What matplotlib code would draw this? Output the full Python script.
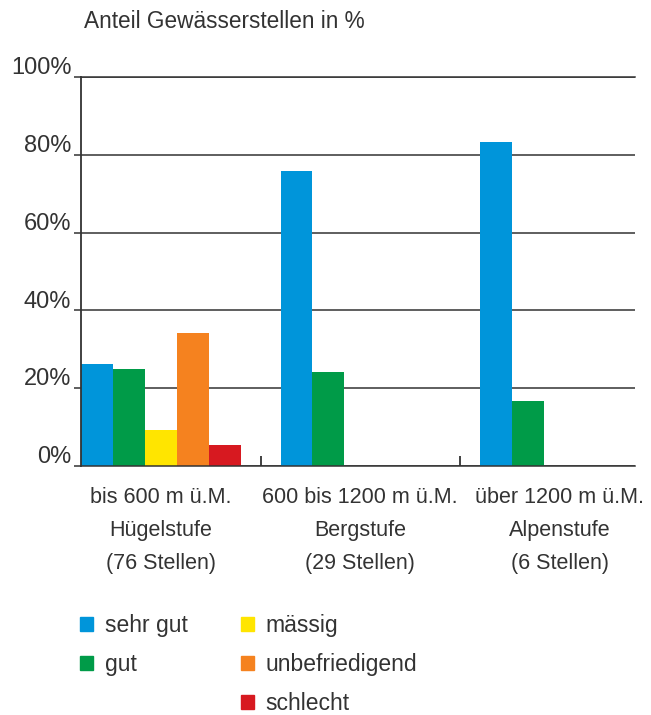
import matplotlib.pyplot as plt
from matplotlib.patches import Patch
from matplotlib.transforms import ScaledTranslation

plt.rcParams['font.family'] = ['Liberation Sans', 'DejaVu Sans']

groups = ["bis 600 m ü.M.\nHügelstufe\n(76 Stellen)",
          "600 bis 1200 m ü.M.\nBergstufe\n(29 Stellen)",
          "über 1200 m ü.M.\nAlpenstufe\n(6 Stellen)"]
classes = ["sehr gut", "gut", "mässig", "unbefriedigend", "schlecht"]
colors = ["#0095da", "#009b48", "#ffe500", "#f5821f", "#d71920"]

# Anteil in % je Höhenstufe
sehr_gut = [26.3, 75.9, 83.3]
gut = [25.0, 24.1, 16.7]
maessig = [9.2, 0, 0]
unbefriedigend = [34.2, 0, 0]
schlecht = [5.3, 0, 0]
values = [sehr_gut, gut, maessig, unbefriedigend, schlecht]

yticks = [0, 20, 40, 60, 80, 100]
ytick_labels = ["0%", "20%", "40%", "60%", "80%", "100%"]

txt = "#333333"
line = "#333333"

fig = plt.figure(figsize=(6.51, 7.15), dpi=100)
ax = fig.add_axes([81 / 651, 1 - 466 / 715, (635 - 81) / 651, (466 - 77) / 715])

w = 0.16
for k, (name, vals, c) in enumerate(zip(classes, values, colors)):
    xs = [i + w * k + w / 2 for i in range(len(groups))]
    ax.bar(xs, vals, width=w, color=c, linewidth=0, label=name)

ax.set_xlim(0, 554 / 199.5)
ax.set_ylim(0, 100)
ax.set_axisbelow(True)

ax.set_yticks(yticks)
ax.set_yticklabels(ytick_labels)
ax.yaxis.grid(True, color=line, linewidth=1.1)
ax.tick_params(axis='y', length=5, width=1.1, color=line, pad=2,
               labelsize=17, labelcolor=txt)
lift = ScaledTranslation(0, 2 / 72, fig.dpi_scale_trans)
for lbl in ax.get_yticklabels():
    lbl.set_verticalalignment('baseline')
    lbl.set_transform(lbl.get_transform() + lift)

centers = [i + 2.5 * w for i in range(len(groups))]
ax.set_xticks(centers)
ax.set_xticklabels(groups)
ax.set_xticks([0.9, 1.9], minor=True)
ax.tick_params(axis='x', which='major', length=0, pad=15, labelsize=15.5,
               labelcolor=txt)
ax.tick_params(axis='x', which='minor', direction='in', length=7, width=1.3,
               color=line)
for lbl in ax.get_xticklabels():
    lbl.set_linespacing(1.76)
    lbl.set_verticalalignment('top')

ax.spines["right"].set_visible(False)
for s in ["top", "bottom"]:
    ax.spines[s].set_color(line)
    ax.spines[s].set_linewidth(1.1)
ax.spines["left"].set_color(line)
ax.spines["left"].set_linewidth(1.3)

fig.text(84 / 651, 1 - 22 / 715, "Anteil Gewässerstellen in %", fontsize=16.3,
         color=txt, va='center', ha='left')

handles = [Patch(color=colors[0]), Patch(color=colors[1]), Patch(alpha=0),
           Patch(color=colors[2]), Patch(color=colors[3]), Patch(color=colors[4])]
labels = [classes[0], classes[1], "", classes[2], classes[3], classes[4]]
fig.legend(handles, labels, ncol=2, loc='upper left',
           bbox_to_anchor=(80 / 651, 1 - 614 / 715), frameon=False,
           fontsize=16.5, labelcolor=txt, handlelength=0.57, handleheight=0.57,
           handletextpad=0.5, columnspacing=2.35, labelspacing=0.7,
           borderpad=0, borderaxespad=0)

fig.savefig("out.png", dpi=100)
